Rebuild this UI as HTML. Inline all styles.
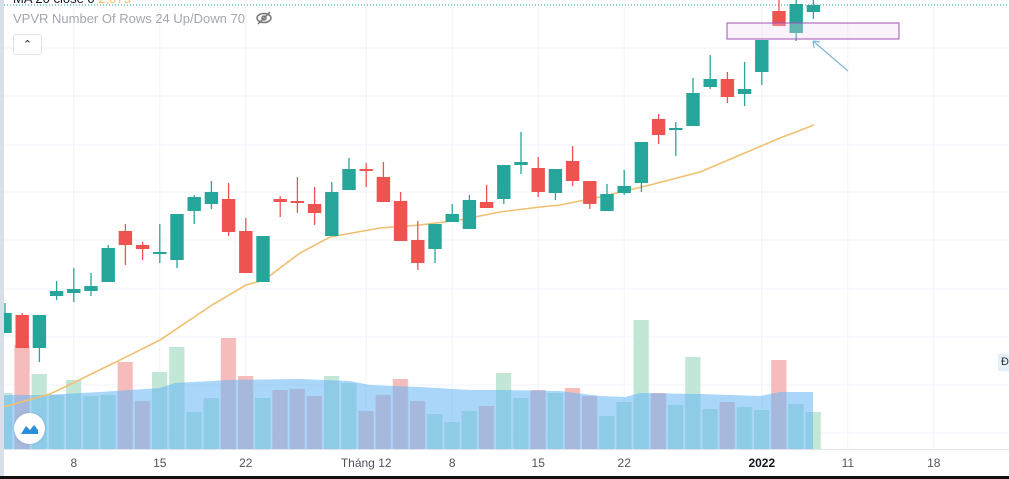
<!DOCTYPE html>
<html><head><meta charset="utf-8"><style>
body{margin:0;background:#fff;font-family:"Liberation Sans","Noto Sans CJK SC",sans-serif}
#wrap{position:relative;width:1009px;height:479px;overflow:hidden;background:#fff}
</style></head><body>
<div id="wrap">
<svg id="chart" width="1009" height="479"></svg>
</div>
<script>
// Price values are expressed in reference units (larger = higher)
const opens  = [147,165,132,184,187,189,198,249,235,226,220,269,276,281,249,198,281,279,276,244,290,311,303,279,240,231,258,251,278,281,315,312,287,319,299,269,287,297,361,350,354,393,401,386,408,469,447,468];
const closes = [167,132,165,189,191,194,232,235,231,228,266,283,288,248,207,244,278,278,267,288,311,309,278,239,217,256,266,280,272,315,318,288,311,299,276,286,294,338,345,352,387,401,383,391,440,454,476,475];
const highs  = [177,167,165,199,212,207,235,256,238,256,266,285,299,297,262,244,284,303,293,298,322,317,318,288,259,256,276,285,295,315,348,323,311,334,299,296,310,338,366,358,402,425,408,418,440,480,484,480];
const lows   = [147,132,118,180,178,184,198,215,220,217,212,256,271,244,207,198,263,267,255,244,290,293,278,239,210,217,258,251,272,276,306,283,280,294,271,269,285,288,336,324,354,391,377,374,395,454,439,461];
const vols   = [56,104,75,54,69,53,54,87,48,77,102,37,51,111,73,51,59,60,53,73,66,38,54,70,48,35,27,38,43,76,51,59,56,61,53,33,47,129,56,44,92,40,47,42,39,89,45,37];
const maX    = [0,50,73,120,160,212,246,264,300,330,380,420,460,500,540,560,600,650,700,740,780,814];
const maVals = [72,86,97,120,140,175,195,200,227,243,252,255,260,268,273,275,283,295,308,325,342,355];
const vpX    = [4,45,100,160,175,230,300,350,370,420,470,500,560,600,625,640,700,760,780,813];
const vpVals = [54,54,57,61,66,69,70,68,64,62,59,59,58,53,52,56,55,53,57,57];
const xTicks = ["8","15","22","Tháng 12","8","15","22","2022","11","18"];
const xTickIdx = [4,9,14,21,26,31,36,44,49,54];

const NS="http://www.w3.org/2000/svg";
const svg=document.getElementById('chart');
const x0=5, step=17.2;
const xBar=i=>x0+i*step;
const yP=v=>480-v;
const VBASE=449;
const yV=v=>VBASE-v;
function el(t,a,p){const e=document.createElementNS(NS,t);for(const k in a)e.setAttribute(k,a[k]);(p||svg).appendChild(e);return e;}

const grid=el('g',{});


[48,96,145,192,240,289,337,385,433].forEach(y=>el('line',{x1:4,x2:1009,y1:y,y2:y,stroke:'#f0f3fa','stroke-width':1},grid));
xTickIdx.forEach(i=>{const x=xBar(i);el('line',{x1:x,x2:x,y1:0,y2:449,stroke:'#f0f3fa','stroke-width':1},grid);});

const dl=el('line',{x1:4,x2:1009,y1:5,y2:5,stroke:'#26a69a','stroke-width':1,'stroke-dasharray':'1 2'});



const vg=el('g',{});


vols.forEach((v,i)=>{
  const up=closes[i]>=opens[i];
  const x=xBar(i)-7.8;
  const bx=Math.max(4,x);
  const r=el('rect',{x:bx,y:yV(v),width:xBar(i)+7.8-bx,height:v,fill:up?'#c2e7d6':'#f6bcbc'},vg);
  
  
});
let d='M'+vpX[0]+','+VBASE;
vpX.forEach((x,i)=>{d+=' L'+x+','+yV(vpVals[i]);});
d+=' L'+vpX[vpX.length-1]+','+VBASE+' Z';
const vp=el('path',{d:d,fill:'#64b5f6','fill-opacity':0.55});


vols.forEach((v,i)=>{const x=xBar(i)+7.8;el('line',{x1:x,x2:x,y1:yV(v),y2:VBASE,stroke:'#ffffff','stroke-opacity':0.6,'stroke-width':1.2},vg);});

let md='';
maX.forEach((x,i)=>{md+=(i?' L':'M')+x+','+yP(maVals[i]);});
const ma=el('path',{d:md,fill:'none',stroke:'#f0c070','stroke-width':1.6});



const cg=el('g',{});


closes.forEach((c,i)=>{
  const o=opens[i],up=c>=o,col=up?'#26a69a':'#ef5350',x=xBar(i);
  const g=el('g',{},cg);
  
  
  el('line',{x1:x,x2:x,y1:yP(highs[i]),y2:yP(lows[i]),stroke:col,'stroke-width':1.3},g);
  const top=yP(Math.max(o,c)),h=Math.max(2,Math.abs(o-c));
  const bx=Math.max(4,x-6.7);
  el('rect',{x:bx,y:top,width:x+6.7-bx,height:h,fill:col},g);
});

const ra=el('rect',{x:727,y:23,width:172,height:16,fill:'#f3d6f3',stroke:'#a052b4','stroke-width':1,'fill-opacity':0.3});


const ar=el('g',{});


el('line',{x1:848,y1:71,x2:813,y2:41,stroke:'#7fb8d8','stroke-width':1.2},ar);
el('path',{d:'M813,41 L820,42 M813,41 L814,48',stroke:'#7fb8d8','stroke-width':1.2,fill:'none'},ar);

el('line',{x1:4,x2:1009,y1:449.5,y2:449.5,stroke:'#e0e3eb','stroke-width':1});
const xa=el('g',{});


xTicks.forEach((t,i)=>{
  const tx=el('text',{x:xBar(xTickIdx[i]),y:467,'text-anchor':'middle','font-size':12,fill:t==='2022'?'#131722':'#50535e','font-weight':t==='2022'?'bold':'normal','font-family':'Liberation Sans, sans-serif'},xa);
  tx.textContent=t;
  
  
});
</script>
<div style="position:absolute;left:0;top:0;width:4px;height:479px;background:#d9dfe8"></div>
<div style="position:absolute;left:0;top:476px;width:1009px;height:3px;background:#111"></div>
<div style="position:absolute;left:13px;top:-9px;font-size:13px;color:#131722;white-space:nowrap">MA 20 close 0 <span style="color:#f0c070">2,075</span></div>
<div style="position:absolute;left:13px;top:11px;font-size:13px;color:#a3a6af;white-space:nowrap">VPVR Number Of Rows 24 Up/Down 70
 <svg width="18" height="14" style="vertical-align:-2px;margin-left:6px"><ellipse cx="9" cy="7" rx="7" ry="4.5" fill="none" stroke="#777" stroke-width="1.5"/><circle cx="9" cy="7" r="2" fill="none" stroke="#777" stroke-width="1.5"/><line x1="3" y1="13" x2="15" y2="1" stroke="#777" stroke-width="1.5"/></svg></div>
<div style="position:absolute;left:13px;top:34px;width:27px;height:19px;border:1px solid #e0e3eb;border-radius:3px;background:#fff;text-align:center;font-size:11px;line-height:21px;color:#131722">&#8963;</div>
<div style="position:absolute;left:14px;top:413px;width:31px;height:31px;border-radius:50%;background:#fff;box-shadow:0 0 2px rgba(0,0,0,.2)"><svg width="31" height="31"><path d="M7,21 L12,13 L16,17 L20,12 L24,17 L24,21 Z" fill="#2a8ed8"/></svg></div>
<div style="position:absolute;left:998px;top:354px;width:14px;height:17px;background:#e3f0fa;font-size:11px;color:#333;line-height:17px;padding-left:3px">Đ</div>
</body></html>
